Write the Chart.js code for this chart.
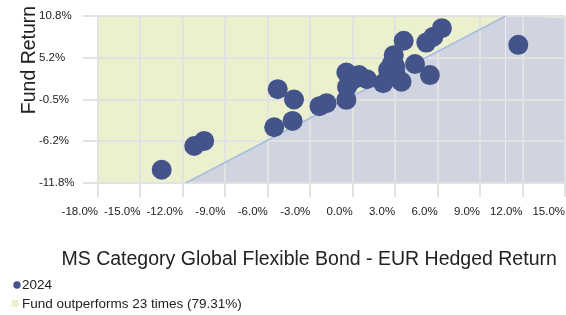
<!DOCTYPE html>
<html>
<head>
<meta charset="utf-8">
<script src="https://cdn.jsdelivr.net/npm/chart.js@4"></script>
<style>
  body { margin: 0; background: #fff; }
</style>
</head>
<body>
<canvas id="myChart" width="566" height="315"></canvas>
<script>
// 2024: category return (x) vs fund return (y), in %
var categoryReturn = [-13.5, -11.2, -10.5, -5.3, -4.15, -5.55, -4.25, -2.35, -1.85, -0.45,
                      -0.45, -0.4, 0.45, 1.0, 2.15, 2.75, 2.9, 3.6, 3.45, 4.4,
                      5.45, 5.2, 5.7, 6.3, 11.7, 2.5, 3.0, 0.0, 3.0];
var fundReturn = [-10.0, -6.8, -6.1, 0.9, -0.5, -4.25, -3.4, -1.4, -1.0, -0.55,
                  3.15, 1.2, 2.8, 2.25, 1.7, 4.3, 5.5, 7.45, 1.9, 4.3,
                  2.8, 7.2, 8.0, 9.15, 6.9, 3.5, 3.2, 2.15, 4.0];

// fund = category boundary, kept inside the y range
var edgeX = [-18, -11.8, 10.8, 15];
var edgeY = [-11.8, -11.8, 10.8, 10.55];

var xTicks = [-18, -15, -12, -9, -6, -3, 0, 3, 6, 9, 12, 15];
var xLabels = ['-18.0%', '-15.0%', '-12.0%', '-9.0%', '-6.0%', '-3.0%', '0.0%', '3.0%', '6.0%', '9.0%', '12.0%', '15.0%'];
var yTicks = [-11.8, -6.15, -0.5, 5.15, 10.8];
var yLabels = ['-11.8%', '-6.2%', '-0.5%', '5.2%', '10.8%'];

var yTitle = 'Fund Return';
var xTitle = 'MS Category Global Flexible Bond - EUR Hedged Return';

var FONT = '"Liberation Sans", Arial, sans-serif';
var gridColor = '#e2e2e2';

function toPoints(xs, ys) {
  return xs.map(function (x, i) { return { x: x, y: ys[i] }; });
}

// axis titles and the two-row legend under the chart
var extras = {
  id: 'extras',
  afterDraw: function (chart) {
    var c = chart.ctx;
    var ds = chart.data.datasets;
    c.save();
    c.fillStyle = '#222';
    c.font = '19.5px ' + FONT;
    c.textBaseline = 'alphabetic';
    c.textAlign = 'left';
    c.fillText(xTitle, 61.5, 265);
    c.textAlign = 'center';
    c.translate(35, 60);
    c.rotate(-Math.PI / 2);
    c.fillText(yTitle, 0, 0);
    c.restore();

    c.save();
    c.font = '13.5px ' + FONT;
    c.textBaseline = 'middle';
    c.fillStyle = ds[0].backgroundColor;
    c.beginPath();
    c.arc(17, 285, 3.7, 0, Math.PI * 2);
    c.fill();
    c.fillStyle = ds[1].backgroundColor;
    c.fillRect(11.5, 300, 7, 7);
    c.fillStyle = '#222';
    c.fillText(ds[0].label, 22, 285);
    c.fillText(ds[1].label, 22, 304);
    c.restore();
  }
};

var ctx = document.getElementById('myChart').getContext('2d');
var myChart = new Chart(ctx, {
  type: 'scatter',
  data: {
    datasets: [{
      label: '2024',
      data: toPoints(categoryReturn, fundReturn),
      backgroundColor: '#44548a',
      borderWidth: 0,
      pointRadius: 10,
      pointHoverRadius: 10
    }, {
      type: 'line',
      label: 'Fund outperforms 23 times (79.31%)',
      data: toPoints(edgeX, edgeY),
      backgroundColor: '#ebf0cf',
      borderWidth: 0,
      pointRadius: 0,
      fill: 'end'
    }, {
      type: 'line',
      label: 'underperform',
      data: toPoints(edgeX, edgeY),
      backgroundColor: '#d0d4e1',
      borderColor: '#a5bcdc',
      borderWidth: 1.5,
      pointRadius: 0,
      fill: 'start',
      segment: {
        borderColor: function (s) { return s.p0DataIndex === 1 ? '#a5bcdc' : 'rgba(0,0,0,0)'; }
      }
    }]
  },
  options: {
    responsive: false,
    animation: false,
    layout: { autoPadding: false, padding: { left: 39, top: 16, right: 1, bottom: 92 } },
    plugins: {
      legend: { display: false },
      tooltip: { enabled: false },
      filler: { drawTime: 'beforeDraw' }
    },
    scales: {
      x: {
        type: 'linear',
        min: -18,
        max: 15,
        afterBuildTicks: function (s) { s.ticks = xTicks.map(function (v) { return { value: v }; }); },
        afterFit: function (s) { s.height = 40; s.paddingLeft = 0; s.paddingRight = 0; },
        grid: { color: gridColor, lineWidth: 2, tickLength: 14, tickColor: gridColor },
        border: { color: gridColor, width: 2 },
        ticks: {
          align: 'end',
          autoSkip: false,
          maxRotation: 0,
          padding: 8,
          color: '#222',
          font: { family: FONT, size: 11.5 },
          callback: function (v, i) { return xLabels[i]; }
        }
      },
      y: {
        min: -11.8,
        max: 10.8,
        afterBuildTicks: function (s) { s.ticks = yTicks.map(function (v) { return { value: v }; }); },
        afterFit: function (s) { s.width = 59; },
        grid: { color: gridColor, lineWidth: 2, tickLength: 15, tickColor: gridColor },
        border: { color: gridColor, width: 2 },
        ticks: {
          crossAlign: 'far',
          padding: 8,
          color: '#222',
          font: { family: FONT, size: 11.5 },
          callback: function (v, i) { return yLabels[i]; }
        }
      }
    }
  },
  plugins: [extras]
});
</script>
</body>
</html>
